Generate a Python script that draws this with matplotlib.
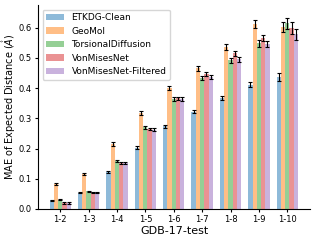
import numpy as np
import matplotlib
matplotlib.use("Agg")
import matplotlib.pyplot as plt

groups = ["1-2", "1-3", "1-4", "1-5", "1-6", "1-7", "1-8", "1-9", "1-10"]
methods = ["ETKDG-Clean", "GeoMol", "TorsionalDiffusion", "VonMisesNet", "VonMisesNet-Filtered"]

etkdg = [0.028, 0.054, 0.122, 0.203, 0.273, 0.321, 0.367, 0.412, 0.438]
geomol = [0.082, 0.116, 0.215, 0.318, 0.400, 0.465, 0.535, 0.612, 0.602]
torsional = [0.030, 0.059, 0.160, 0.270, 0.363, 0.433, 0.492, 0.548, 0.615]
vonmises = [0.020, 0.055, 0.153, 0.265, 0.366, 0.446, 0.515, 0.565, 0.598]
vonmises_f = [0.020, 0.055, 0.153, 0.263, 0.363, 0.436, 0.495, 0.546, 0.578]

etkdg_err = [0.002, 0.002, 0.003, 0.004, 0.004, 0.005, 0.006, 0.007, 0.013]
geomol_err = [0.003, 0.004, 0.005, 0.006, 0.007, 0.008, 0.010, 0.012, 0.017]
torsional_err = [0.002, 0.002, 0.003, 0.004, 0.006, 0.007, 0.009, 0.011, 0.018]
vonmises_err = [0.002, 0.002, 0.003, 0.004, 0.005, 0.006, 0.008, 0.010, 0.020]
vonmises_f_err = [0.002, 0.002, 0.003, 0.004, 0.006, 0.007, 0.009, 0.011, 0.018]

values = [etkdg, geomol, torsional, vonmises, vonmises_f]
errors = [etkdg_err, geomol_err, torsional_err, vonmises_err, vonmises_f_err]
colors = ["tab:blue", "tab:orange", "tab:green", "tab:red", "tab:purple"]

fig = plt.figure(figsize=(3.17, 2.41), dpi=100)
ax = fig.add_axes([0.12, 0.133, 0.858, 0.846])

x = np.arange(len(groups))
width = 0.15
for i, (name, vals, errs) in enumerate(zip(methods, values, errors)):
    pos = x + (i - 2) * width
    ax.bar(pos, vals, width, color=colors[i], alpha=0.5, label=name)
    ax.errorbar(pos, vals, yerr=errs, fmt="none", ecolor="black",
                elinewidth=0.8, capsize=1.5, capthick=0.8)

ax.set_xticks(x)
ax.set_xticklabels(groups, fontsize=6)
ax.tick_params(axis="y", labelsize=6)
ax.tick_params(length=2.5, pad=2)
ax.set_ylim(0, 0.675)
ax.set_xlim(-0.78, 8.8)
ax.set_xlabel("GDB-17-test", fontsize=8, labelpad=1)
ax.set_ylabel("MAE of Expected Distance ($\\mathring{A}$)", fontsize=7)
ax.yaxis.set_label_coords(-0.072, 0.5)
ax.spines["top"].set_visible(False)
ax.spines["right"].set_visible(False)
ax.legend(fontsize=6.5, loc="upper left", bbox_to_anchor=(0.0, 1.0))

fig.savefig("out.png", dpi=100)
